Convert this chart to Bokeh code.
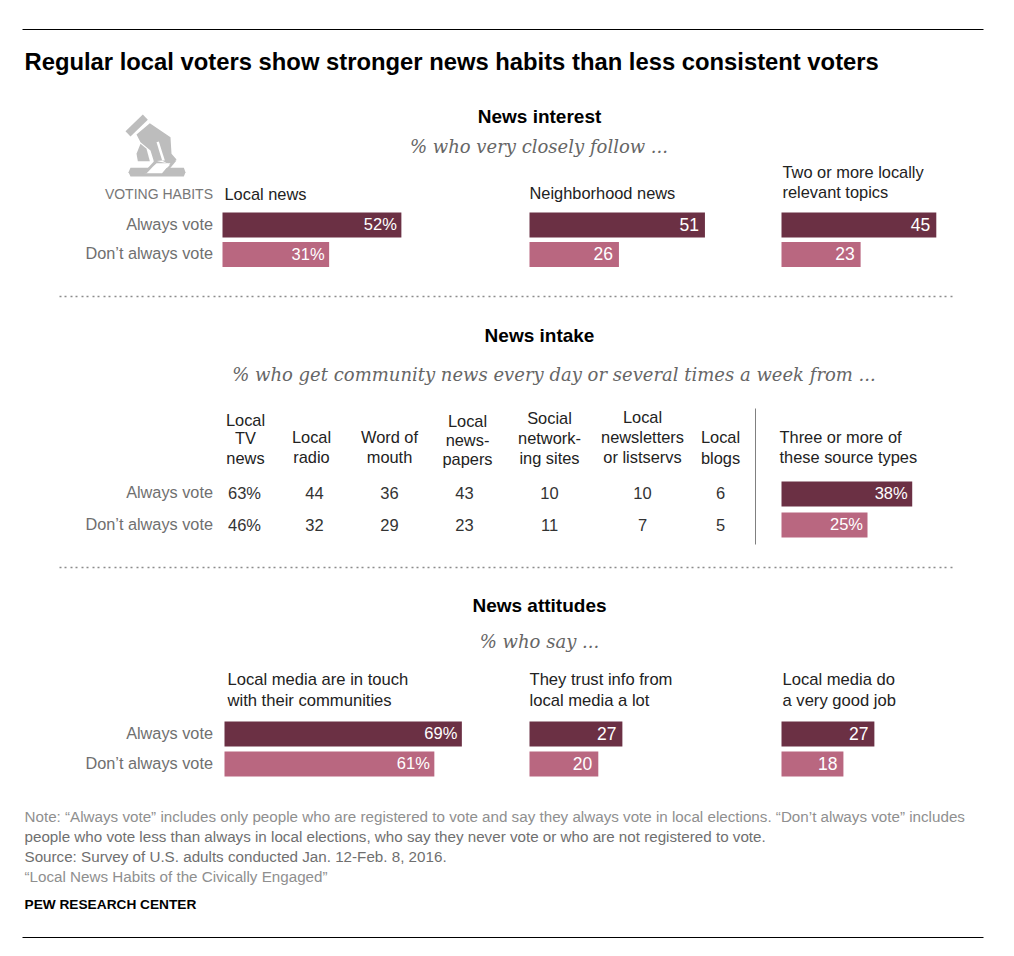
from bokeh.plotting import figure
from bokeh.embed import file_html
from bokeh.resources import INLINE
from bokeh.core.properties import value

title = "Regular local voters show stronger news habits than less consistent voters"
groups = ["Always vote", "Don’t always vote"]

interest_labels = [["Local news"], ["Neighborhood news"], ["Two or more locally", "relevant topics"]]
interest_always = [52, 51, 45]
interest_dont = [31, 26, 23]

intake_labels = [["Local", "TV", "news"], ["Local", "radio"], ["Word of", "mouth"],
                 ["Local", "news-", "papers"], ["Social", "network-", "ing sites"],
                 ["Local", "newsletters", "or listservs"], ["Local", "blogs"]]
intake_always = ["63%", "44", "36", "43", "10", "10", "6"]
intake_dont = ["46%", "32", "29", "23", "11", "7", "5"]
intake_sum_label = ["Three or more of", "these source types"]
intake_sum = [38, 25]

attitude_labels = [["Local media are in touch", "with their communities"],
                   ["They trust info from", "local media a lot"],
                   ["Local media do", "a very good job"]]
attitude_always = [69, 27, 27]
attitude_dont = [61, 20, 18]

notes = [
    ("Note: “Always vote” includes only people who are registered to vote and say they always vote in local elections. “Don’t always vote” includes", "#8f8f8f"),
    ("people who vote less than always in local elections, who say they never vote or who are not registered to vote.", "#6f6f6f"),
    ("Source: Survey of U.S. adults conducted Jan. 12-Feb. 8, 2016.", "#6f6f6f"),
    ("“Local News Habits of the Civically Engaged”", "#8f8f8f"),
]

DARK, LIGHT = "#6b3044", "#b96780"
BODY = "Liberation Sans"
SERIF = "DejaVu Serif"
PX = 3.44
SUB = 18

p = figure(width=998, height=940, x_range=(0, 998), y_range=(940, 0),
           output_backend="svg", toolbar_location=None, min_border=0)
p.axis.visible = False
p.grid.visible = False
p.outline_line_color = None


def txt(x, y, s, size=16.4, color="#222222", align="left", style="normal", font=BODY):
    p.text([x], [y - 1], text=[s], text_font=value(font), text_font_size=f"{size}px",
           text_color=color, text_align=align, text_baseline="middle", text_font_style=style)


def bars(x0, ya, yd, a, d, pct=False):
    for y, v, c in ((ya, a, DARK), (yd, d, LIGHT)):
        p.hbar(y=[y], left=[x0], right=[x0 + v * PX], height=25, color=c, line_color=None)
        if pct:
            txt(x0 + v * PX - 4.5, y, f"{v}%", 16.5, "#ffffff", "right")
        else:
            txt(x0 + v * PX - 6, y, f"{v}", 17.5, "#ffffff", "right")


def row_labels(ya, yd):
    txt(212.5, ya, groups[0], 16.3, "#6f6f6f", "right")
    txt(212.5, yd, groups[1], 16.3, "#6f6f6f", "right")


# rules
for y in (29, 937):
    p.segment([22], [y], [983], [y], line_color="#000000", line_width=1)
for y in (296, 567):
    p.segment([59], [y], [952], [y], line_color="#8c8c8c", line_width=1.5, line_dash="2 3 2 4")
p.segment([755], [408], [755], [544], line_color="#808080", line_width=1)

txt(24, 61.5, title, 23.8, "#000000", style="bold")

# section 1
txt(539, 116.5, "News interest", 19, "#000000", "center", "bold")
txt(538.5, 146.5, "% who very closely follow ...", SUB, "#666666", "center", "italic", SERIF)
txt(212.5, 194, "VOTING HABITS", 14, "#777777", "right")
row_labels(224.5, 253.5)


# ballot icon
GREY = "#bdbdbd"


def icon(pts, color=GREY):
    p.patch([120 + a / 3 for a, _ in pts], [110 + b / 3 for _, b in pts], color=color, line_color=None)


icon([(15, 62), (67, 12), (82, 28), (30, 78)])
icon([(48, 72), (88, 38), (150, 80), (153, 130), (168, 147), (150, 165), (125, 150), (100, 152), (90, 120), (60, 95)])
icon([(60, 100), (78, 115), (88, 152), (52, 152), (48, 130)])
icon([(30, 172), (190, 172), (195, 185), (190, 198), (30, 198), (24, 185)])
icon([(100, 150), (140, 158), (125, 172), (100, 172)])
icon([(108, 158), (150, 158), (125, 188), (72, 188)], "#ffffff")
icon([(103, 150), (112, 153), (77, 190), (66, 190)])
icon([(160, 150), (168, 150), (135, 190), (124, 190)])
icon([(108, 95), (115, 93), (133, 150), (125, 150)], "#ffffff")

label_y = [[194], [193], [172, 192]]
for x, lines, ys in zip([224, 529, 782], interest_labels, label_y):
    for s, y in zip(lines, ys):
        txt(x, y, s)
for i, x0 in enumerate([222, 529, 781]):
    bars(x0, 224.5, 254, interest_always[i], interest_dont[i], pct=(i == 0))

# section 2
txt(539, 335.5, "News intake", 19, "#000000", "center", "bold")
txt(553.5, 374.5, "% who get community news every day or several times a week from ...", SUB, "#666666", "center", "italic", SERIF)
col_x = [245, 311, 389, 467, 549, 642, 720]
col_y = [[420, 438, 458], [437, 457], [437, 457], [421, 440, 459], [418, 438, 458], [417, 437, 457], [437, 458]]
for x, lines, ys in zip(col_x, intake_labels, col_y):
    for s, y in zip(lines, ys):
        txt(x, y, s, align="center")
row_labels(492, 524)
col_vx = [244, 314, 389, 464, 549, 642, 720]
for x, a, d in zip(col_vx, intake_always, intake_dont):
    txt(x, 493, a, 16.5, "#333333", "center")
    txt(x, 525, d, 16.5, "#333333", "center")
txt(779, 437, intake_sum_label[0])
txt(779, 457, intake_sum_label[1])
bars(781, 493.5, 524.5, intake_sum[0], intake_sum[1], pct=True)

# section 3
txt(539, 605.5, "News attitudes", 19, "#000000", "center", "bold")
txt(539, 641.5, "% who say ...", SUB, "#666666", "center", "italic", SERIF)
for x, lines in zip([227, 529, 782], attitude_labels):
    txt(x, 680, lines[0], 16.6)
    txt(x, 701, lines[1], 16.6)
row_labels(733, 763)
for i, x0 in enumerate([224, 529, 781]):
    bars(x0, 733.5, 763.5, attitude_always[i], attitude_dont[i], pct=(i == 0))

# notes
for (s, c), y in zip(notes, [817, 837, 857, 877]):
    txt(24, y, s, 15.2, c)
txt(24, 905, "PEW RESEARCH CENTER", 13.7, "#000000", style="bold")

open("out.html", "w").write(file_html(p, INLINE))
